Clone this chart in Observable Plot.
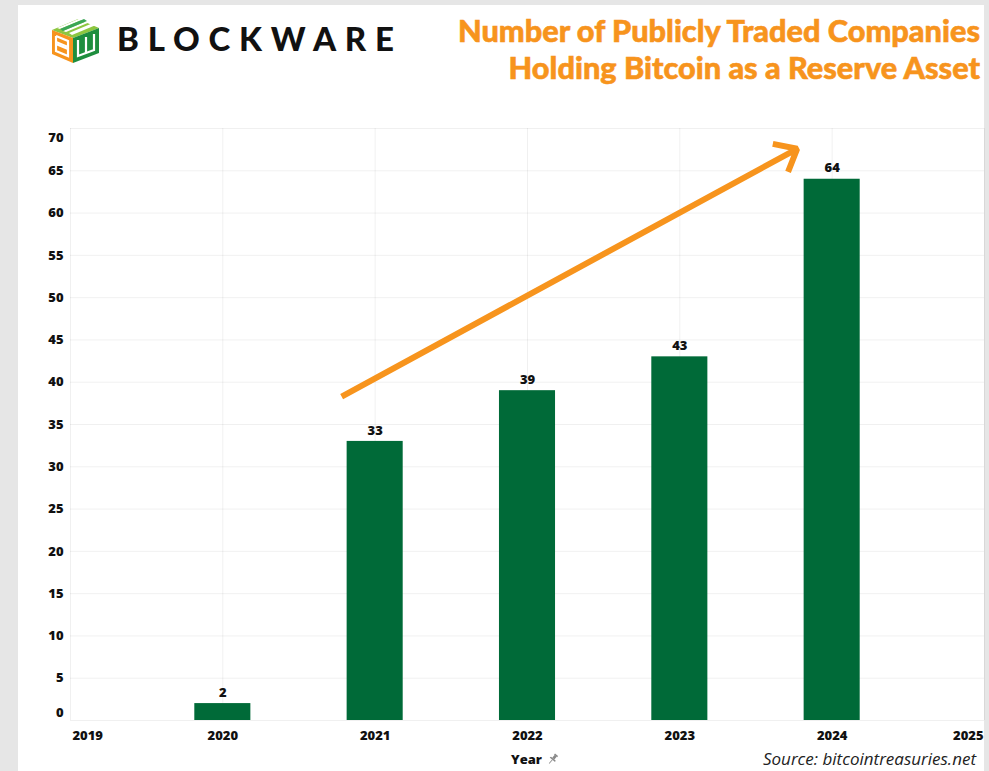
<!DOCTYPE html>
<html>
<head>
<meta charset="utf-8">
<script src="https://cdn.jsdelivr.net/npm/d3@7"></script>
<script src="https://cdn.jsdelivr.net/npm/@observablehq/plot@0.6"></script>
<style>
  html, body { margin: 0; padding: 0; }
  body { width: 989px; height: 771px; background: #e6e6e6; position: relative; overflow: hidden; font-family: "Open Sans", sans-serif; }
  #panel { position: absolute; left: 18px; top: 5px; width: 966px; height: 766px; background: #fff; }
  #logo { position: absolute; left: 48px; top: 12px; }
  #brand { position: absolute; left: 117px; top: 15px; font-family: "Lato", sans-serif; font-weight: 900; font-size: 33px; letter-spacing: 8.8px; color: #111; line-height: 46px; }
  #title { position: absolute; right: 9px; top: 12px; text-align: right; font-family: "Lato", sans-serif; font-weight: 900; font-size: 30.7px; line-height: 37px; color: #F7941D; -webkit-text-stroke: 0.6px #F7941D; }
  #chart { position: absolute; left: 0; top: 100px; }
  #xlabel { position: absolute; left: 511px; top: 750px; font-weight: 800; font-size: 13px; color: #111; display: flex; align-items: center; gap: 5px; }
  #source { position: absolute; right: 13px; top: 747px; font-style: italic; font-size: 17px; color: #222; }
</style>
</head>
<body>
<div id="panel"></div>
<svg id="logo" width="56" height="54" viewBox="48 12 56 54">
  <polygon points="52,30 78,19 99,28 73,38" fill="#8DC63F"/>
  <polygon points="57,28 81,18 84,19 60,29" fill="#fff"/>
  <polygon points="63,31 87,21 90,22 66,32" fill="#fff"/>
  <polygon points="69,33 93,23 96,25 72,35" fill="#fff"/>
  <polygon points="60,29 84,19 87,21 63,31" fill="#3AA655"/>
  <polygon points="52,30 73,38 73,63 52,54" fill="#F7941D"/>
  <polyline points="56,36 68,41 68,47 56,42" fill="none" stroke="#fff" stroke-width="2.2"/>
  <polyline points="56,44 68,49 68,56 56,51 56,36" fill="none" stroke="#fff" stroke-width="2.2"/>
  <polygon points="73,38 99,28 99,53 73,63" fill="#1E8E3E"/>
  <polyline points="78,40 78,56 94,50 94,34" fill="none" stroke="#fff" stroke-width="2.2"/>
  <line x1="86" y1="37" x2="86" y2="53" stroke="#fff" stroke-width="2.2"/>
</svg>
<div id="brand">BLOCKWARE</div>
<div id="title">Number of Publicly Traded Companies<br>Holding Bitcoin as a Reserve Asset</div>
<div id="chart"></div>
<div id="xlabel"><span>Year</span>
  <svg width="12" height="12" viewBox="0 0 12 12"><g transform="rotate(40 6 6)" fill="#888"><rect x="4" y="0.5" width="4" height="1.5"/><rect x="4.6" y="2" width="2.8" height="3.5"/><polygon points="3,5.5 9,5.5 9.5,7 2.5,7"/><rect x="5.6" y="7" width="0.8" height="5"/></g></svg>
</div>
<div id="source">Source: bitcointreasuries.net</div>
<script>
// ---- data ----
const years = [2020, 2021, 2022, 2023, 2024];
const counts = [2, 33, 39, 43, 64];
const xTicks = [2019, 2020, 2021, 2022, 2023, 2024, 2025];
const yTicks = [0, 5, 10, 15, 20, 25, 30, 35, 40, 45, 50, 55, 60, 65, 70];
// trend arrow annotation, in data units: [year, count]
const arrowStart = [2020.78, 38.3];
const arrowEnd = [2023.77, 67.6];

const data = years.map((year, i) => ({year, count: counts[i]}));
const halfBar = 0.184;
const green = "#006a38";
const orange = "#F7941D";

const midY = yTicks.filter(t => t !== 0 && t !== 70);
const midX = xTicks.filter(t => t !== 2019 && t !== 2025);
const axisStyle = {tickSize: 0, fontWeight: 800, fontSize: 13, fill: "#111", label: null};

const chart = Plot.plot({
  width: 989,
  height: 671,
  marginLeft: 70,
  marginRight: 5,
  marginTop: 28,
  marginBottom: 51,
  x: {domain: [2019, 2025], label: null},
  y: {domain: [0, 70], label: null},
  style: {fontFamily: "'Open Sans', sans-serif", background: "transparent", color: "#111", overflow: "visible"},
  marks: [
    Plot.gridY(yTicks, {stroke: "#000", strokeOpacity: 0.06}),
    Plot.gridX(xTicks, {stroke: "#000", strokeOpacity: 0.06}),
    Plot.axisY(midY, {...axisStyle, tickPadding: 7}),
    Plot.axisY([0], {...axisStyle, tickPadding: 7, dy: -8}),
    Plot.axisY([70], {...axisStyle, tickPadding: 7, dy: 9}),
    Plot.axisX(midX, {...axisStyle, tickPadding: 10, tickFormat: d => String(d)}),
    Plot.axisX([2019], {...axisStyle, tickPadding: 10, tickFormat: d => String(d), textAnchor: "start", dx: 2}),
    Plot.axisX([2025], {...axisStyle, tickPadding: 10, tickFormat: d => String(d), textAnchor: "end", dx: -1}),
    Plot.rectY(data, {x1: d => d.year - halfBar, x2: d => d.year + halfBar, y1: 0, y2: "count", fill: green}),
    Plot.text(data, {x: "year", y: "count", text: d => String(d.count), dy: -11, fontWeight: 800, fontSize: 13, fill: "#111"}),
    Plot.arrow([{a: arrowStart, b: arrowEnd}], {
      x1: d => d.a[0], y1: d => d.a[1], x2: d => d.b[0], y2: d => d.b[1],
      stroke: orange, strokeWidth: 6, headLength: 6.2, headAngle: 80, strokeLinecap: "butt"
    })
  ]
});
document.getElementById("chart").appendChild(chart);
</script>
</body>
</html>
